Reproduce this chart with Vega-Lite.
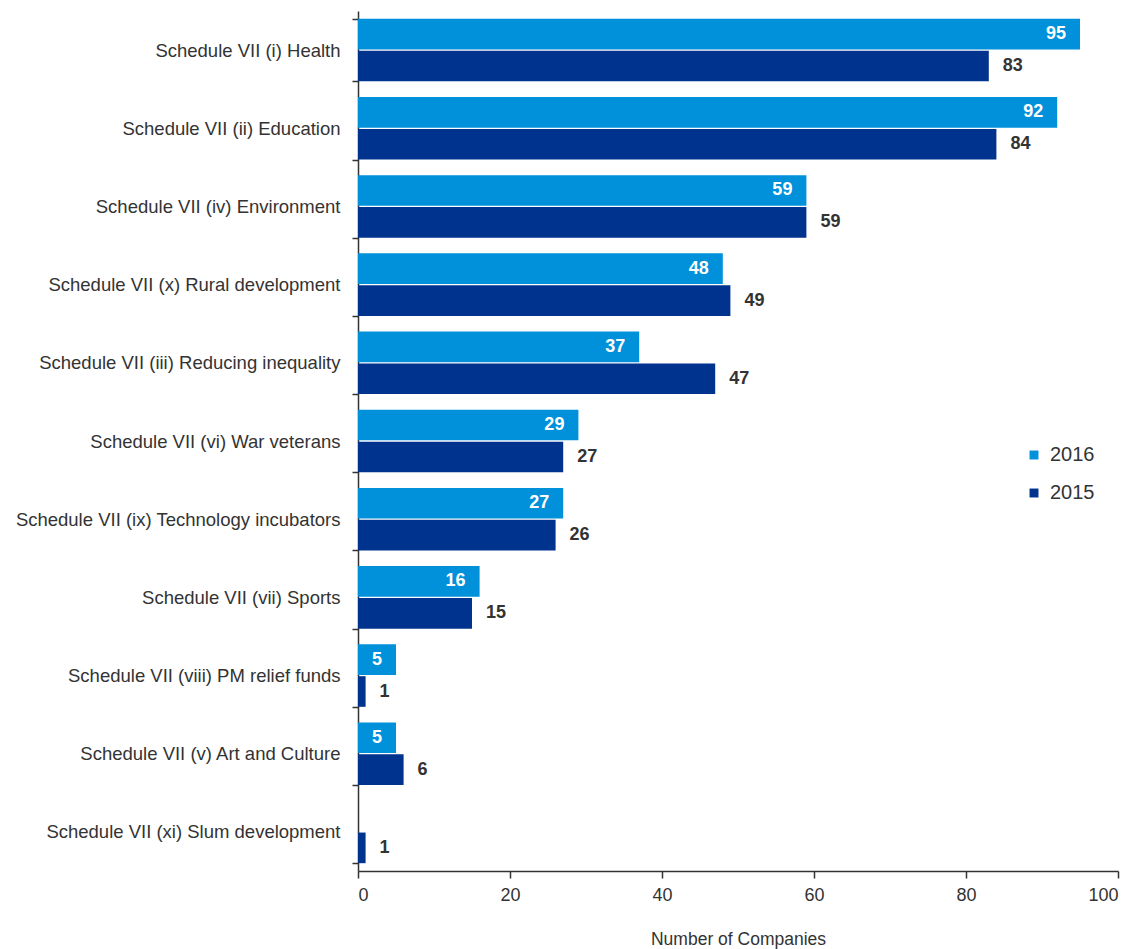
{
  "$schema": "https://vega.github.io/schema/vega-lite/v6.json",
  "autosize": "none",
  "width": 760,
  "height": 860,
  "padding": {"left": 358, "top": 11, "right": 19, "bottom": 78},
  "background": "white",
  "config": {
    "view": {"stroke": null},
    "font": "Liberation Sans",
    "axis": {"domainColor": "#333333", "tickColor": "#333333", "labelColor": "#333333", "titleColor": "#333333", "grid": false}
  },
  "data": {
    "values": [
      {"cat": "Schedule VII (i) Health", "year": "2016", "value": 95},
      {"cat": "Schedule VII (i) Health", "year": "2015", "value": 83},
      {"cat": "Schedule VII (ii) Education", "year": "2016", "value": 92},
      {"cat": "Schedule VII (ii) Education", "year": "2015", "value": 84},
      {"cat": "Schedule VII (iv) Environment", "year": "2016", "value": 59},
      {"cat": "Schedule VII (iv) Environment", "year": "2015", "value": 59},
      {"cat": "Schedule VII (x) Rural development", "year": "2016", "value": 48},
      {"cat": "Schedule VII (x) Rural development", "year": "2015", "value": 49},
      {"cat": "Schedule VII (iii) Reducing inequality", "year": "2016", "value": 37},
      {"cat": "Schedule VII (iii) Reducing inequality", "year": "2015", "value": 47},
      {"cat": "Schedule VII (vi) War veterans", "year": "2016", "value": 29},
      {"cat": "Schedule VII (vi) War veterans", "year": "2015", "value": 27},
      {"cat": "Schedule VII (ix) Technology incubators", "year": "2016", "value": 27},
      {"cat": "Schedule VII (ix) Technology incubators", "year": "2015", "value": 26},
      {"cat": "Schedule VII (vii) Sports", "year": "2016", "value": 16},
      {"cat": "Schedule VII (vii) Sports", "year": "2015", "value": 15},
      {"cat": "Schedule VII (viii) PM relief funds", "year": "2016", "value": 5},
      {"cat": "Schedule VII (viii) PM relief funds", "year": "2015", "value": 1},
      {"cat": "Schedule VII (v) Art and Culture", "year": "2016", "value": 5},
      {"cat": "Schedule VII (v) Art and Culture", "year": "2015", "value": 6},
      {"cat": "Schedule VII (xi) Slum development", "year": "2015", "value": 1}
    ]
  },
  "encoding": {
    "y": {
      "field": "cat", "type": "nominal", "sort": null,
      "scale": {"paddingInner": 0.2, "paddingOuter": 0.1},
      "axis": {"title": null, "tickBand": "extent", "labelFontSize": 18.5, "labelLimit": 0, "labelPadding": 12, "tickSize": 6, "domainWidth": 1.5, "tickWidth": 1.5}
    },
    "yOffset": {"field": "year", "type": "nominal", "sort": ["2016", "2015"], "scale": {"paddingInner": 0.04}},
    "x": {
      "field": "value", "type": "quantitative",
      "scale": {"domain": [0, 100]},
      "axis": {"title": "Number of Companies", "values": [0, 20, 40, 60, 80, 100], "labelFontSize": 18, "titleFontSize": 17.5, "titleFontWeight": "normal", "titlePadding": 26, "tickSize": 7, "labelPadding": 8, "domainWidth": 1.5, "tickWidth": 1.5}
    }
  },
  "layer": [
    {
      "mark": {"type": "bar"},
      "encoding": {
        "color": {
          "field": "year", "type": "nominal",
          "scale": {"domain": ["2016", "2015"], "range": ["#0091DA", "#00338D"]},
          "legend": {"title": null, "orient": "none", "legendX": 666, "legendY": 434, "symbolType": "square", "symbolSize": 80, "labelFontSize": 20, "rowPadding": 18, "labelColor": "#333333", "labelOffset": 6}
        }
      }
    },
    {
      "transform": [{"filter": "datum.year == '2016'"}],
      "mark": {"type": "text", "align": "right", "dx": -14, "fontSize": 18, "fontWeight": "bold", "color": "white"},
      "encoding": {"text": {"field": "value", "type": "quantitative"}}
    },
    {
      "transform": [{"filter": "datum.year == '2015'"}],
      "mark": {"type": "text", "align": "left", "dx": 14, "fontSize": 18, "fontWeight": "bold", "color": "#333333"},
      "encoding": {"text": {"field": "value", "type": "quantitative"}}
    }
  ]
}
